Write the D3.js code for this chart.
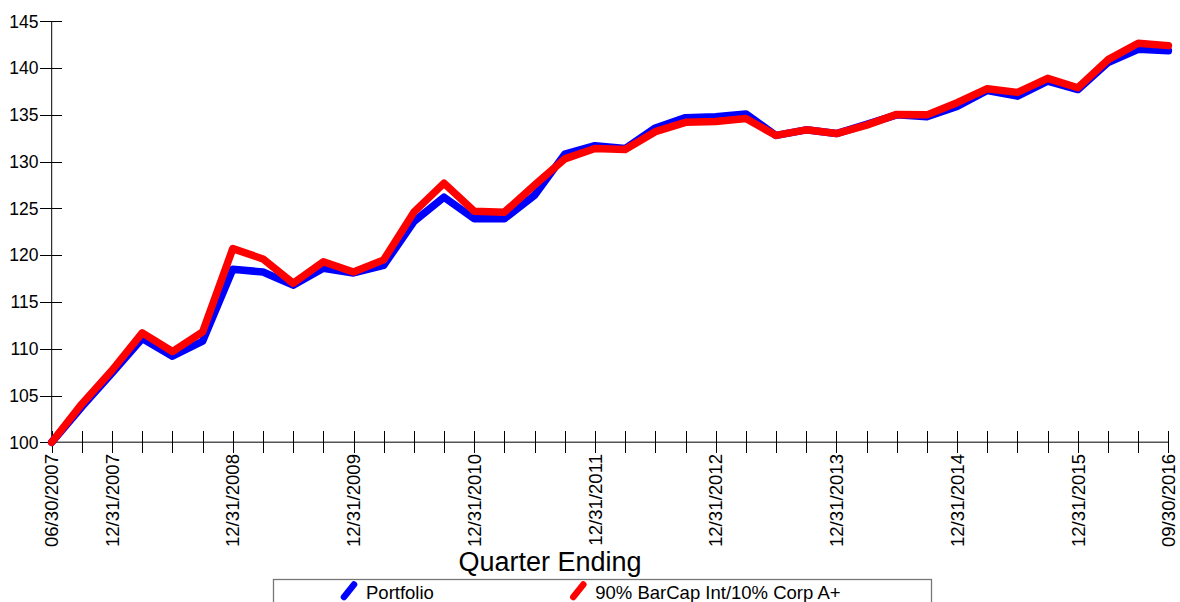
<!DOCTYPE html>
<html>
<head>
<meta charset="utf-8">
<script src="https://cdn.jsdelivr.net/npm/d3@7"></script>
<style>
  html, body { margin: 0; padding: 0; background: #fff; }
  svg { display: block; }
  text { font-family: "Liberation Sans", Arial, sans-serif; fill: #000; }
</style>
</head>
<body>
<svg id="chart" width="1180" height="602"></svg>
<script>
// ---- data ----
const quarters = [
  "06/30/2007","09/30/2007","12/31/2007","03/31/2008","06/30/2008","09/30/2008","12/31/2008",
  "03/31/2009","06/30/2009","09/30/2009","12/31/2009","03/31/2010","06/30/2010","09/30/2010",
  "12/31/2010","03/31/2011","06/30/2011","09/30/2011","12/31/2011","03/31/2012","06/30/2012",
  "09/30/2012","12/31/2012","03/31/2013","06/30/2013","09/30/2013","12/31/2013","03/31/2014",
  "06/30/2014","09/30/2014","12/31/2014","03/31/2015","06/30/2015","09/30/2015","12/31/2015",
  "03/31/2016","06/30/2016","09/30/2016"
];
const portfolio = [
  100.0, 103.8, 107.4, 111.1, 109.2, 110.8, 118.5, 118.2, 116.8, 118.6, 118.1, 118.9,
  123.6, 126.2, 123.9, 123.9, 126.4, 130.8, 131.7, 131.4, 133.6, 134.7, 134.8, 135.1,
  132.8, 133.4, 133.0, 134.0, 135.0, 134.8, 135.9, 137.6, 137.0, 138.6, 137.7, 140.6,
  142.0, 141.85
];
const benchmark = [
  100.0, 104.1, 107.7, 111.7, 109.7, 111.8, 120.7, 119.6, 117.0, 119.3, 118.2, 119.5,
  124.6, 127.7, 124.7, 124.6, 127.5, 130.3, 131.4, 131.3, 133.2, 134.2, 134.3, 134.6,
  132.8, 133.4, 133.0, 133.9, 135.05, 135.0, 136.3, 137.8, 137.4, 138.9, 137.9, 140.9,
  142.65, 142.4
];
const yTicks = [100, 105, 110, 115, 120, 125, 130, 135, 140, 145];
const xLabels = ["06/30/2007","12/31/2007","12/31/2008","12/31/2009","12/31/2010",
  "12/31/2011","12/31/2012","12/31/2013","12/31/2014","12/31/2015","09/30/2016"];
const seriesNames = ["Portfolio", "90% BarCap Int/10% Corp A+"];
const seriesColors = ["#0000ff", "#ff0000"];

// ---- layout ----
const svg = d3.select("#chart");
const x = d3.scalePoint().domain(quarters).range([51.7, 1168.4]);
const y = d3.scaleLinear().domain([100, 145]).range([442.3, 21.3]);

// y axis
const yAxis = svg.append("g");
yAxis.append("line").attr("x1", x.range()[0]).attr("x2", x.range()[0])
  .attr("y1", y(145)).attr("y2", y(100)).attr("stroke", "#000").attr("stroke-width", 1);
yAxis.selectAll("line.tk").data(yTicks).join("line").attr("class", "tk")
  .attr("x1", 40).attr("x2", 62)
  .attr("y1", d => Math.round(y(d)) + 0.5).attr("y2", d => Math.round(y(d)) + 0.5)
  .attr("stroke", "#000").attr("stroke-width", 1);
yAxis.selectAll("text").data(yTicks).join("text")
  .attr("x", 38.5).attr("y", d => y(d)).attr("dy", "0.36em")
  .attr("text-anchor", "end").style("font-size", "17.5px").text(d => d);

// x axis
const xAxis = svg.append("g");
xAxis.append("line").attr("x1", x.range()[0]).attr("x2", x.range()[1])
  .attr("y1", 442.3).attr("y2", 442.3).attr("stroke", "#555").attr("stroke-width", 1.6);
xAxis.selectAll("line.tk").data(quarters).join("line").attr("class", "tk")
  .attr("x1", d => Math.round(x(d)) + 0.5).attr("x2", d => Math.round(x(d)) + 0.5)
  .attr("y1", 431).attr("y2", 453)
  .attr("stroke", "#000").attr("stroke-width", 1);
xAxis.selectAll("text").data(xLabels).join("text")
  .attr("transform", d => `translate(${x(d)},454) rotate(-90)`)
  .attr("dy", "0.36em").attr("text-anchor", "end")
  .style("font-size", "18.6px").text(d => d);

// title
svg.append("text").attr("x", 550).attr("y", 571).attr("text-anchor", "middle")
  .style("font-size", "27px").text("Quarter Ending");

// lines
const line = d3.line().x((d, i) => x(quarters[i])).y(d => y(d));
[portfolio, benchmark].forEach((s, k) => {
  svg.append("path").datum(s).attr("d", line)
    .attr("fill", "none").attr("stroke", seriesColors[k]).attr("stroke-width", 7.5)
    .attr("stroke-linejoin", "round").attr("stroke-linecap", "round");
});

// legend
const lg = svg.append("g");
lg.append("rect").attr("x", 273.5).attr("y", 579.5).attr("width", 658).attr("height", 40)
  .attr("fill", "none").attr("stroke", "#777").attr("stroke-width", 1.3);
const legX = [344, 573.3];
seriesNames.forEach((nm, k) => {
  lg.append("line").attr("x1", legX[k]).attr("y1", 597).attr("x2", legX[k] + 10).attr("y2", 584.5)
    .attr("stroke", seriesColors[k]).attr("stroke-width", 6.5).attr("stroke-linecap", "round");
  lg.append("text").attr("x", legX[k] + 22).attr("y", 598.5)
    .style("font-size", "18.5px").text(nm);
});
</script>
</body>
</html>
